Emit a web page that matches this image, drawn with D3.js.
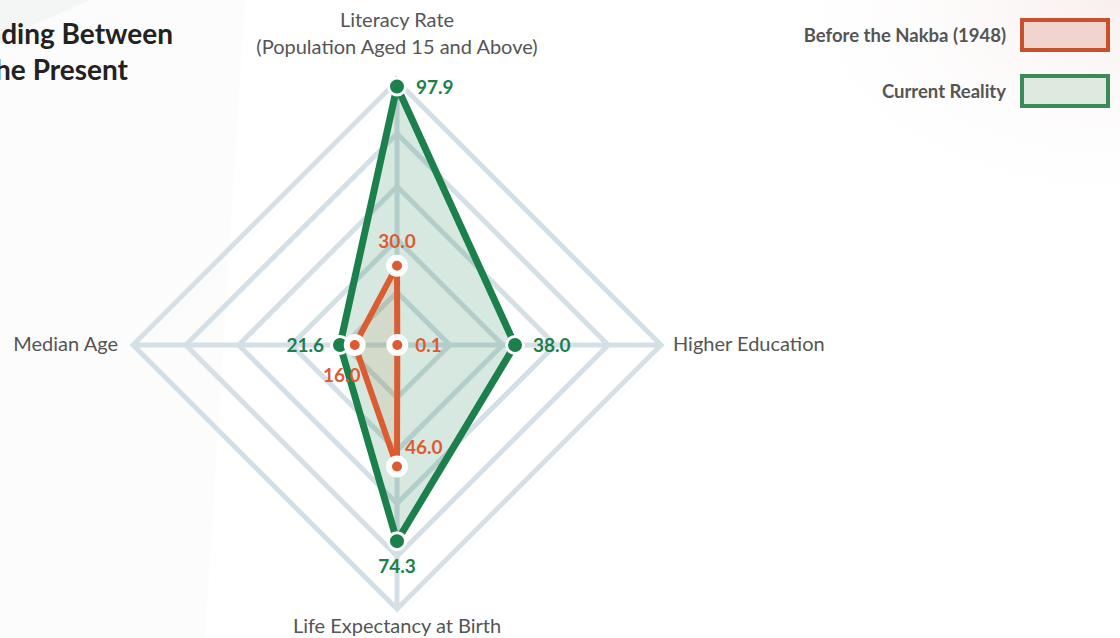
<!DOCTYPE html>
<html>
<head>
<meta charset="utf-8">
<script src="https://cdn.jsdelivr.net/npm/d3@7"></script>
<style>
  body { margin: 0; background: #fff; }
  svg { display: block; font-family: Lato, "Open Sans", sans-serif; }
</style>
</head>
<body>
<div class="chart-container"></div>
<script>
// axes, clockwise from the top
const axes = ["Literacy Rate", "Higher Education", "Life Expectancy at Birth", "Median Age"];
const axisMax = [100, 85, 100, 100];
const seriesNames = ["Before the Nakba (1948)", "Current Reality"];
const beforeValues = [30.0, 0.1, 46.0, 16.0];
const currentValues = [97.9, 38.0, 74.3, 21.6];
const gridLevels = [0.2, 0.4, 0.6, 0.8, 1];
const titleLines = ["Understanding Between", "1948 and the Present"];

const width = 1120, height = 638;
const cx = 397, cy = 345, R = 264;

const svg = d3.select(".chart-container").append("svg")
  .attr("width", width)
  .attr("height", height)
  .attr("viewBox", `0 0 ${width} ${height}`);

// faint background panels
const defs = svg.append("defs");
const pink = defs.append("radialGradient").attr("id", "pinkGlow")
  .attr("cx", "100%").attr("cy", "0%").attr("r", "75%");
pink.append("stop").attr("offset", "0%").attr("stop-color", "#f7efed");
pink.append("stop").attr("offset", "100%").attr("stop-color", "#ffffff").attr("stop-opacity", 0);

const bg = svg.append("g");
bg.append("polygon").attr("points", "0,0 245,0 205,638 0,638").attr("fill", "#fcfcfc");
bg.append("polygon").attr("points", "0,0 90,0 0,40").attr("fill", "#f4f5f5");
bg.append("rect").attr("x", 640).attr("y", 0).attr("width", 480).attr("height", 300)
  .attr("fill", "url(#pinkGlow)");

const angle = d3.scaleLinear().domain([0, axes.length]).range([0, 2 * Math.PI]);
const rScales = axisMax.map(m => d3.scaleLinear().domain([0, m]).range([0, R]));

function point(i, r) {
  const a = angle(i);
  return [cx + r * Math.sin(a), cy - r * Math.cos(a)];
}

// grid
const grid = svg.append("g");
const line = d3.line().curve(d3.curveLinearClosed);
grid.selectAll(".ring")
  .data(gridLevels)
  .enter()
  .append("path")
  .attr("class", "ring")
  .attr("d", lv => line(axes.map((a, i) => point(i, lv * R))))
  .attr("fill", "none")
  .attr("stroke", "#d5e0e6")
  .attr("stroke-width", 5)
  .attr("stroke-linejoin", "miter");

grid.selectAll(".spoke")
  .data(axes)
  .enter()
  .append("line")
  .attr("x1", cx).attr("y1", cy)
  .attr("x2", (d, i) => point(i, R)[0])
  .attr("y2", (d, i) => point(i, R)[1])
  .attr("stroke", "#d5e0e6")
  .attr("stroke-width", 5);

// axis labels
const labels = svg.append("g")
  .attr("fill", "#555")
  .attr("font-size", 20);
labels.append("text").attr("x", cx).attr("y", 27).attr("text-anchor", "middle").text("Literacy Rate");
labels.append("text").attr("x", cx).attr("y", 54).attr("text-anchor", "middle").text("(Population Aged 15 and Above)");
labels.append("text").attr("x", cx + R + 12).attr("y", cy + 6).text(axes[1]);
labels.append("text").attr("x", cx).attr("y", 633).attr("text-anchor", "middle").text(axes[2]);
labels.append("text").attr("x", cx - R - 15).attr("y", cy + 6).attr("text-anchor", "end").text(axes[3]);

// series
const series = [
  { name: seriesNames[1], values: currentValues, color: "#1b804b", fill: "rgba(27,128,75,0.18)", width: 7 },
  { name: seriesNames[0], values: beforeValues, color: "#dc5c32", fill: "rgba(200,120,60,0.13)", width: 6 }
];

const pts = s => s.values.map((v, i) => point(i, rScales[i](v)));

series.forEach(s => {
  svg.append("path")
    .attr("d", line(pts(s)))
    .attr("fill", s.fill)
    .attr("stroke", s.color)
    .attr("stroke-width", s.width)
    .attr("stroke-linejoin", "miter");
});

// markers
const cur = series[0], bef = series[1];
svg.append("g").selectAll("circle")
  .data(pts(cur))
  .enter()
  .append("circle")
  .attr("cx", d => d[0]).attr("cy", d => d[1])
  .attr("r", 8.5)
  .attr("fill", cur.color)
  .attr("stroke", "#fff")
  .attr("stroke-width", 3);

svg.append("g").selectAll("circle")
  .data(pts(bef))
  .enter()
  .append("circle")
  .attr("cx", d => d[0]).attr("cy", d => d[1])
  .attr("r", 8)
  .attr("fill", bef.color)
  .attr("stroke", "#fff")
  .attr("stroke-width", 6);

// value labels: [dx, dy, anchor] per axis
const curOffsets = [[19, 7, "start"], [18, 7, "start"], [0, 32, "middle"], [-16, 7, "end"]];
const befOffsets = [[0, -18, "middle"], [18, 7, "start"], [8, -12, "start"], [-13, 37, "middle"]];

function valueLabels(s, offs) {
  svg.append("g")
    .attr("font-size", 19)
    .attr("font-weight", "bold")
    .attr("fill", s.color)
    .selectAll("text")
    .data(pts(s))
    .enter()
    .append("text")
    .attr("x", (d, i) => d[0] + offs[i][0])
    .attr("y", (d, i) => d[1] + offs[i][1])
    .attr("text-anchor", (d, i) => offs[i][2])
    .text((d, i) => s.values[i].toFixed(1));
}
valueLabels(cur, curOffsets);
valueLabels(bef, befOffsets);

// title (runs off the left edge)
svg.append("g")
  .attr("font-size", 28)
  .attr("font-weight", "bold")
  .attr("fill", "#222")
  .attr("text-anchor", "end")
  .selectAll("text")
  .data(titleLines)
  .enter()
  .append("text")
  .attr("x", (d, i) => i === 0 ? 173 : 128)
  .attr("y", (d, i) => 44 + i * 36)
  .text(d => d);

// legend
const legend = svg.append("g");
const legendItems = [
  { name: seriesNames[0], stroke: "#c9502c", fill: "#f1d4cd" },
  { name: seriesNames[1], stroke: "#3a8b57", fill: "#e0e9e0" }
];
legendItems.forEach((d, i) => {
  const y = 20 + i * 56;
  legend.append("rect")
    .attr("x", 1022).attr("y", y)
    .attr("width", 86).attr("height", 30)
    .attr("fill", d.fill)
    .attr("stroke", d.stroke)
    .attr("stroke-width", 4);
  legend.append("text")
    .attr("x", 1006).attr("y", y + 22)
    .attr("text-anchor", "end")
    .attr("font-size", 18.5)
    .attr("font-weight", "bold")
    .attr("fill", "#555")
    .text(d.name);
});
</script>
</body>
</html>
